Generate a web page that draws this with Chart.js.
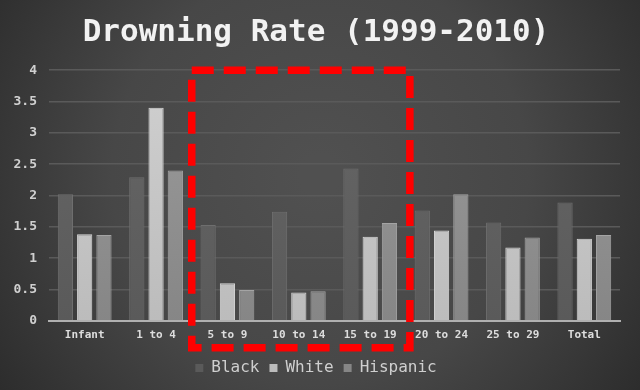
<!DOCTYPE html>
<html>
<head>
<meta charset="utf-8">
<script src="https://cdn.jsdelivr.net/npm/chart.js@4"></script>
<style>
  html, body { margin: 0; padding: 0; background: #333; }
  #wrap { width: 640px; height: 390px; }
</style>
</head>
<body>
<div id="wrap"><canvas id="myChart" width="640" height="390"></canvas></div>
<script>
const ageGroups = ["Infant", "1 to 4", "5 to 9", "10 to 14", "15 to 19", "20 to 24", "25 to 29", "Total"];
const blackRates = [2.02, 2.29, 1.53, 1.74, 2.43, 1.76, 1.57, 1.89];
const whiteRates = [1.38, 3.40, 0.60, 0.45, 1.34, 1.44, 1.17, 1.31];
const hispanicRates = [1.37, 2.40, 0.49, 0.47, 1.56, 2.02, 1.33, 1.37];
const yTicks = [0, 0.5, 1, 1.5, 2, 2.5, 3, 3.5, 4];

// top / bottom shades for each series, plus edge
const shades = {
    Black: ["#676767", "#5a5a5a", "#6e6e6e"],
    White: ["#d0d0d0", "#bcbcbc", "#d8d8d8"],
    Hispanic: ["#9c9c9c", "#868686", "#a4a4a4"]
};

function barFill(name) {
    return function (ctx) {
        const chart = ctx.chart;
        const area = chart.chartArea;
        if (!area) return shades[name][1];
        const g = chart.ctx.createLinearGradient(0, area.top, 0, area.bottom);
        g.addColorStop(0, shades[name][0]);
        g.addColorStop(1, shades[name][1]);
        return g;
    };
}

// dark vignette background
const backdrop = {
    id: "backdrop",
    beforeDraw(chart) {
        const c = chart.ctx;
        const w = chart.width, h = chart.height;
        const g = c.createRadialGradient(w / 2, h * 0.45, 20, w / 2, h * 0.45, w * 0.62);
        g.addColorStop(0, "#505050");
        g.addColorStop(0.5, "#474747");
        g.addColorStop(1, "#2b2b2b");
        c.save();
        c.fillStyle = g;
        c.fillRect(0, 0, w, h);
        c.restore();
    }
};

// red dashed box around 5 to 19
const highlight = {
    id: "highlight",
    afterDraw(chart) {
        const x = chart.scales.x, y = chart.scales.y;
        const left = (x.getPixelForValue(1) + x.getPixelForValue(2)) / 2;
        const right = (x.getPixelForValue(4) + x.getPixelForValue(5)) / 2 + 4;
        const top = y.getPixelForValue(4);
        const bottom = chart.chartArea.bottom + 27;
        const c = chart.ctx;
        c.save();
        c.strokeStyle = "#ff0000";
        c.lineWidth = 7.5;
        c.setLineDash([22, 10]);
        c.strokeRect(left, top, right - left, bottom - top);
        c.restore();
    }
};

new Chart(document.getElementById("myChart").getContext("2d"), {
    type: "bar",
    data: {
        labels: ageGroups,
        datasets: [
            { label: "Black", data: blackRates, backgroundColor: barFill("Black"), borderColor: shades.Black[2] },
            { label: "White", data: whiteRates, backgroundColor: barFill("White"), borderColor: shades.White[2] },
            { label: "Hispanic", data: hispanicRates, backgroundColor: barFill("Hispanic"), borderColor: shades.Hispanic[2] }
        ]
    },
    options: {
        responsive: false,
        animation: false,
        devicePixelRatio: 1,
        categoryPercentage: 0.81,
        barPercentage: 0.79,
        borderWidth: 1,
        layout: { padding: { left: 0, right: 8, top: 0, bottom: 4 } },
        plugins: {
            title: {
                display: true,
                text: "Drowning Rate (1999-2010)",
                color: "#f2f2f2",
                font: { family: "DejaVu Sans Mono", size: 31, weight: "bold" },
                padding: { top: 14, bottom: 19 }
            },
            legend: {
                position: "bottom",
                labels: {
                    color: "#cfcfcf",
                    font: { family: "DejaVu Sans Mono", size: 16 },
                    boxWidth: 8,
                    boxHeight: 8,
                    padding: 10,
                    generateLabels(chart) {
                        return chart.data.datasets.map((d, i) => ({
                            text: d.label,
                            fillStyle: shades[d.label][1],
                            strokeStyle: shades[d.label][1],
                            lineWidth: 0,
                            fontColor: "#cfcfcf",
                            datasetIndex: i
                        }));
                    }
                }
            },
            tooltip: { enabled: false }
        },
        scales: {
            x: {
                grid: { display: false },
                border: { color: "#b0b0b0", width: 2 },
                ticks: {
                    color: "#dddddd",
                    font: { family: "DejaVu Sans Mono", size: 11, weight: "bold" },
                    padding: 0,
                    maxRotation: 0
                },
                afterFit(scale) { scale.height += 8; }
            },
            y: {
                min: 0,
                max: 4,
                afterBuildTicks(scale) {
                    scale.ticks = yTicks.map(v => ({ value: v }));
                },
                afterFit(scale) { scale.width = 49; },
                grid: { color: "#5a5a5a", lineWidth: 1.5, drawTicks: false },
                border: { display: false },
                ticks: {
                    color: "#d0d0d0",
                    font: { family: "DejaVu Sans Mono", size: 13, weight: "bold" },
                    padding: 12,
                    callback: v => String(v)
                }
            },
            // empty right-hand strip so the title and legend sit a bit right of the plot centre
            gutter: {
                type: "linear",
                position: "right",
                display: true,
                grid: { display: false },
                border: { display: false },
                ticks: { display: false },
                afterFit(scale) { scale.width = 12; }
            }
        }
    },
    plugins: [backdrop, highlight]
});
</script>
</body>
</html>
